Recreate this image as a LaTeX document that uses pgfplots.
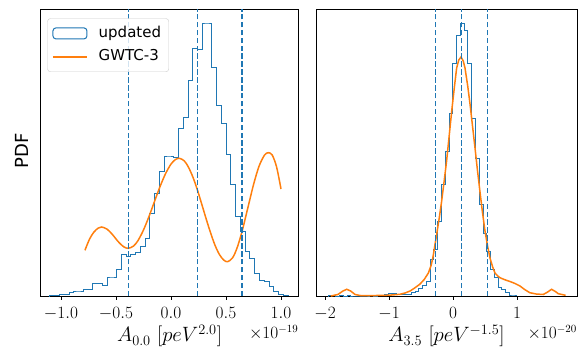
\documentclass[border=0pt]{standalone}
\usepackage[no-math]{fontspec}
\setmainfont{DejaVu Sans}
\usepackage{pgfplots}
\pgfplotsset{compat=1.18}
\definecolor{C0}{HTML}{1F77B4}
\definecolor{C1}{HTML}{FF7F0E}
\begin{document}
\begin{tikzpicture}
\path[use as bounding box] (0pt,0pt) rectangle (585pt,348pt);
\pgfplotsset{
 myax/.style={
  scale only axis, height=287pt,
  ymin=0, ymax=287, ytick=\empty,
  axis line style={line width=0.8pt, black},
  tick align=outside, xtick pos=bottom, major tick length=3.5pt,
  every tick/.style={black, line width=0.8pt},
  tick label style={font=\fontsize{18.5}{18.5}\selectfont},
  xticklabel style={inner sep=1pt, yshift=-6.5pt},
  xlabel style={font=\fontsize{20}{20}\selectfont, at={(axis description cs:0.5,-0.1600)}, anchor=base},
  hist/.style={C0, line width=1pt, const plot},
  kde/.style={C1, line width=1.5pt},
  vl/.style={C0, line width=1.4pt, dash pattern=on 5.5pt off 2.4pt, forget plot},
 }
}
\begin{axis}[myax, name=L, at={(40.5pt,52pt)}, anchor=south west, width=258pt,
  xmin=-1.186, xmax=1.159, xtick={-1,-0.5,0,0.5,1},
  xticklabel style={/pgf/number format/.cd,fixed,fixed zerofill,precision=1},
  xlabel={$A_{0.0}\ [peV^{2.0}]$},
  ylabel={PDF},
  ylabel style={font=\fontsize{18}{18}\selectfont, at={(axis description cs:-0.0736,0.505)}, anchor=center},
  legend cell align=left,
  legend style={at={(axis description cs:0,1)}, anchor=north west, xshift=6.8pt, yshift=-9.3pt,
    draw=black!20, fill=white, fill opacity=0.8, draw opacity=1, text opacity=1,
    rounded corners=3pt, inner xsep=4.7pt, inner ysep=4.4pt, row sep=2.5pt,
    font=\fontsize{15}{17}\selectfont,
    nodes={font=\fontsize{15}{17}\selectfont, inner sep=3pt, text height=11.3pt, text depth=3.7pt},
    /tikz/every odd column/.append style={column sep=8pt}},
]
\addplot[hist, legend image code/.code={\draw[C0, line width=1pt] (0pt,-5.5pt) rectangle (34pt,5.5pt);}] coordinates {
(-1.1000,0) (-1.1000,0.5) (-1.0567,0.5) (-1.0134,1.7) (-0.9702,1.7) (-0.9269,3.3) (-0.8836,5) (-0.8403,5) (-0.7970,6.7) (-0.7538,6.7) (-0.7105,12.3) (-0.6672,12.3) (-0.6239,10.7) (-0.5806,19) (-0.5374,19) (-0.4941,27) (-0.4508,41.7) (-0.4075,40) (-0.3642,42) (-0.3210,44) (-0.2777,50) (-0.2344,58) (-0.1911,83) (-0.1478,103) (-0.1046,125) (-0.0613,140) (-0.0180,140) (0.0253,139) (0.0686,167) (0.1118,178) (0.1551,215) (0.1984,247) (0.2417,246) (0.2850,272) (0.3282,272) (0.3715,228) (0.4148,190) (0.4581,172) (0.5014,142) (0.5446,112) (0.5879,80) (0.6312,65) (0.6745,45) (0.7178,38) (0.7610,23) (0.8043,16) (0.8476,15) (0.8909,10) (0.9342,5) (0.9774,1.3) (1.0207,1) (1.0640,1) (1.0640,0)};
\addlegendentry{updated}
\addplot[kde, smooth, legend image code/.code={\draw[C1, line width=1.5pt] (0pt,0pt) -- (34pt,0pt);}] coordinates {
(-0.782,45.7) (-0.74,57) (-0.70,64) (-0.66,68) (-0.63,69) (-0.58,66.8) (-0.53,61.2) (-0.48,54.4) (-0.43,49.2) (-0.388,47.7) (-0.34,50) (-0.30,55.4) (-0.25,66) (-0.20,79.5) (-0.15,94.5) (-0.10,109.3) (-0.05,122.2) (0.0,131.9) (0.04,136.4) (0.076,137.7) (0.12,135.2) (0.158,129) (0.20,118.7) (0.239,106.4) (0.28,91.7) (0.32,77) (0.36,63.1) (0.40,50.8) (0.44,41.5) (0.48,35.9) (0.515,34.3) (0.56,38.2) (0.60,47.9) (0.645,64.2) (0.70,88.8) (0.75,111.3) (0.80,129.7) (0.85,140.9) (0.885,143.3) (0.92,141) (0.96,129) (1.0,107)};
\addlegendentry{GWTC-3}
\addplot[vl] coordinates {(-0.388,0) (-0.388,287)};
\addplot[vl] coordinates {(0.239,0) (0.239,287)};
\addplot[vl] coordinates {(0.645,0) (0.645,287)};
\end{axis}
\begin{axis}[myax, name=R, at={(316pt,52pt)}, anchor=south west, width=261pt,
  xmin=-2.141, xmax=1.938, xtick={-2,-1,0,1},
  xlabel={$A_{3.5}\ [peV^{-1.5}]$},
]
\addplot[hist] coordinates {
(-1.950,0) (-1.950,0.5) (-1.891,0.3) (-1.832,0) (-1.773,0.3) (-1.714,0) (-1.655,0.3) (-1.596,0) (-1.537,0) (-1.478,0) (-1.419,0) (-1.360,0) (-1.301,0.3) (-1.242,0) (-1.183,0.3) (-1.124,0.5) (-1.065,1.5) (-1.006,2.3) (-0.947,2.3) (-0.888,1.5) (-0.829,1.5) (-0.770,1.5) (-0.711,1.7) (-0.652,3.3) (-0.593,5) (-0.534,7.7) (-0.475,11) (-0.416,15) (-0.357,36.7) (-0.298,46.7) (-0.239,75) (-0.180,112) (-0.121,145) (-0.062,182) (-0.003,232) (0.056,260) (0.115,272) (0.174,265) (0.233,232) (0.292,177) (0.351,138) (0.410,92) (0.469,63) (0.528,45) (0.587,26.7) (0.646,19) (0.705,9) (0.764,6.7) (0.823,3.3) (0.882,1) (0.941,1) (1.000,1) (1.000,0)};
\addplot[kde] coordinates {
(-1.91,0) (-1.80,1.5) (-1.72,5) (-1.66,6.7) (-1.60,5) (-1.53,1.5) (-1.45,0.5) (-1.2,0.5) (-1.0,0.8) (-0.83,1.7) (-0.75,3) (-0.67,5) (-0.60,8) (-0.52,11.7) (-0.45,16.5) (-0.385,23) (-0.34,31) (-0.31,40) (-0.28,52) (-0.255,61.7) (-0.215,78) (-0.177,95) (-0.14,114) (-0.10,135) (-0.06,160) (-0.02,185) (0.02,208) (0.057,228) (0.09,236) (0.125,239) (0.16,235) (0.1875,228) (0.23,210) (0.266,192) (0.305,170) (0.344,148) (0.38,127) (0.42,105) (0.46,84) (0.50,65) (0.54,50) (0.578,38) (0.62,29) (0.656,23) (0.70,20) (0.734,18.3) (0.80,16.5) (0.89,14.5) (0.97,12.5) (1.047,10) (1.12,6.5) (1.2,3.3) (1.30,2) (1.41,1.5) (1.48,4) (1.54,6.7) (1.60,4.5) (1.645,2.3) (1.76,0.7)};
\addplot[vl] coordinates {(-0.27,0) (-0.27,287)};
\addplot[vl] coordinates {(0.137,0) (0.137,287)};
\addplot[vl] coordinates {(0.535,0) (0.535,287)};
\end{axis}
\node[anchor=base east, font=\fontsize{16}{16}\selectfont, inner sep=0pt] at ([yshift=-42.5pt]L.south east) {$\times10^{-19}$};
\node[anchor=base east, font=\fontsize{16}{16}\selectfont, inner sep=0pt] at ([yshift=-42.5pt]R.south east) {$\times10^{-20}$};
\end{tikzpicture}
\end{document}
